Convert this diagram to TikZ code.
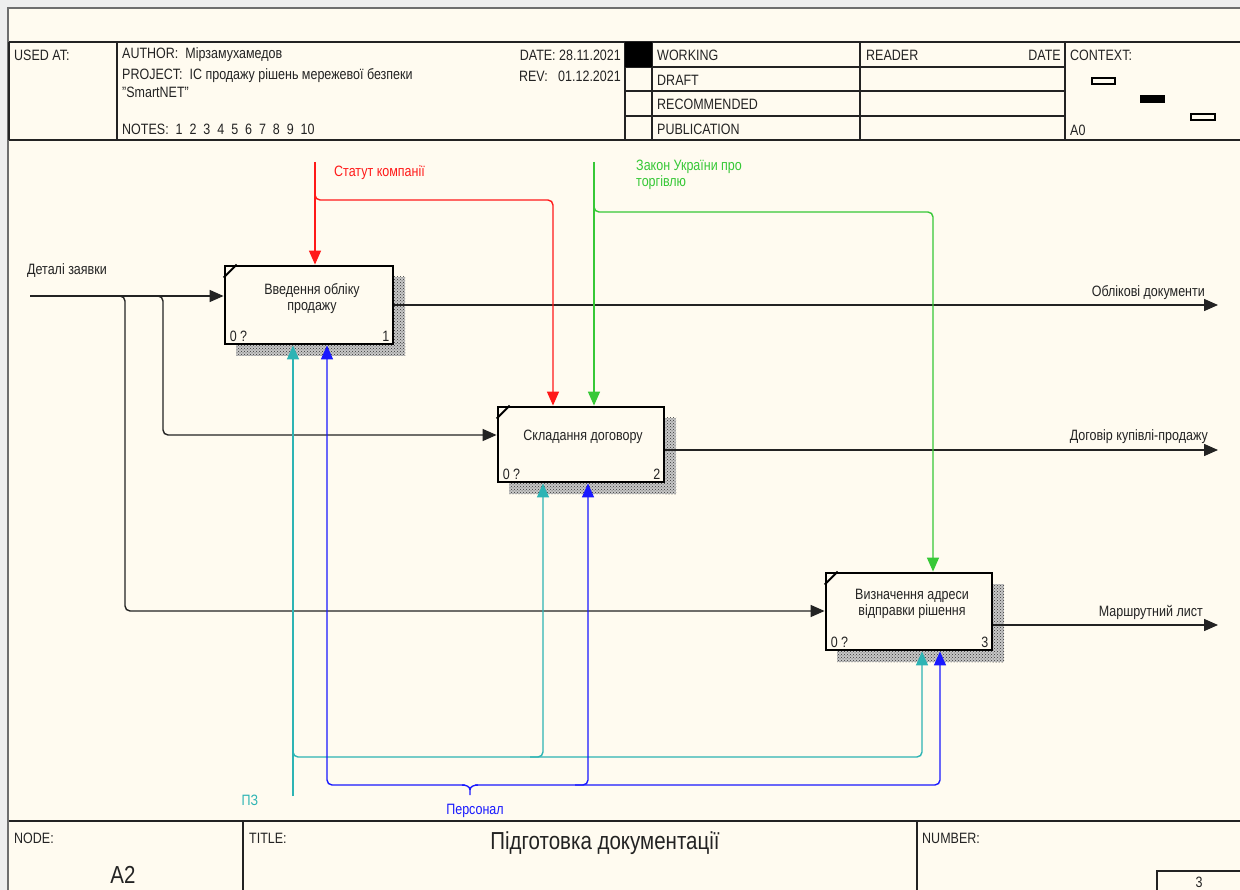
\documentclass[tikz,border=0pt]{standalone}
\usepackage{fontspec}
\setmainfont{Liberation Sans}
\usepackage{graphicx}
\usetikzlibrary{arrows.meta,patterns}
\definecolor{paper}{RGB}{255,251,240}
\definecolor{margin}{RGB}{238,238,238}
\definecolor{framegray}{RGB}{110,110,110}
\definecolor{ink}{RGB}{35,35,35}
\definecolor{ctlred}{RGB}{255,25,25}
\definecolor{ctlgreen}{RGB}{55,200,55}
\definecolor{mechteal}{RGB}{45,180,180}
\definecolor{mechblue}{RGB}{25,25,255}
\newcommand\tall[1]{\scalebox{1}[1.2]{#1}}
\begin{document}
\begin{tikzpicture}[x=1pt,y=-1pt,
  txt/.style={inner sep=0pt, font=\fontsize{12.5}{16}\selectfont, text=ink},
  bigtxt/.style={inner sep=0pt, font=\fontsize{20.5}{24}\selectfont, text=ink},
  rule/.style={draw=ink, line width=1.3pt},
  actbox/.style={draw=black, line width=2.8pt, fill=paper, rectangle, inner sep=0pt},
  shadowbase/.style={fill=black!22},
  shadow/.style={pattern=crosshatch dots, pattern color=black!80},
  flow/.style={line width=1.4pt, rounded corners=5pt, -{Triangle[length=14pt,width=12pt]}},
]
\useasboundingbox (0,0) rectangle (1240,890);
% page and frame
\fill[margin] (0,0) rectangle (1240,890);
\fill[paper] (9,9) rectangle (1240,890);
\draw[framegray, line width=2pt] (8,890) -- (8,8) -- (1240,8);

% header grid
\draw[rule] (9,42) -- (1240,42);
\draw[rule] (9,140) -- (1240,140);
\draw[rule] (9,42) -- (9,140);
\foreach \xx in {117,625,652,860,1065} \draw[rule] (\xx,42) -- (\xx,140);
\foreach \yy in {67,91,116} \draw[rule] (625,\yy) -- (1065,\yy);
\fill[black] (625,42) rectangle (652,67);

\node[txt, anchor=west] (usedat) at (14,55) {\tall{USED AT:}};
\node[txt, anchor=west] (author) at (122,55) {\tall{AUTHOR:\ \ Мірзамухамедов}};
\node[txt, anchor=west] (project) at (122,76) {\tall{PROJECT:\ \ ІС продажу рішень мережевої безпеки}};
\node[txt, anchor=west] (project2) at (122,92) {\tall{"SmartNET"}};
\node[txt, anchor=west] (notes) at (122,129) {\tall{NOTES:\ \ 1\ \ 2\ \ 3\ \ 4\ \ 5\ \ 6\ \ 7\ \ 8\ \ 9\ \ 10}};
\node[txt, anchor=east] (date) at (621,55) {\tall{DATE:\ 28.11.2021}};
\node[txt, anchor=east] (rev) at (621,76) {\tall{REV:\ \ \ 01.12.2021}};
\node[txt, anchor=west] (working) at (657,55) {\tall{WORKING}};
\node[txt, anchor=west] (draft) at (657,80) {\tall{DRAFT}};
\node[txt, anchor=west] (recommended) at (657,104) {\tall{RECOMMENDED}};
\node[txt, anchor=west] (publication) at (657,129) {\tall{PUBLICATION}};
\node[txt, anchor=west] (reader) at (866,55) {\tall{READER}};
\node[txt, anchor=east] (rdate) at (1061,55) {\tall{DATE}};
\node[txt, anchor=west] (context) at (1070,55) {\tall{CONTEXT:}};
\node[txt, anchor=west] (ctxnode) at (1070,130) {\tall{A0}};
\draw[black, line width=1.3pt, fill=paper] (1092,78) rectangle (1115,84);
\fill[black] (1140,95) rectangle (1165,103);
\draw[black, line width=1.3pt, fill=paper] (1191,114) rectangle (1215,120);

% footer
\draw[rule] (9,821) -- (1240,821);
\draw[rule] (243,821) -- (243,890);
\draw[rule] (917,821) -- (917,890);
\draw[rule] (1157,891) -- (1157,871) -- (1242,871);
\node[txt, anchor=west] (nodelbl) at (14,838) {\tall{NODE:}};
\node[bigtxt, anchor=center] (nodeid) at (123,875) {\tall{A2}};
\node[txt, anchor=west] (titlelbl) at (249,838) {\tall{TITLE:}};
\node[bigtxt, anchor=center] (title) at (605,843) {\tall{Підготовка документації}};
\node[txt, anchor=west] (numberlbl) at (922,838) {\tall{NUMBER:}};
\node[txt, anchor=center] (pagenum) at (1199,882) {\tall{3}};

% activity shadows
\foreach \sx/\sy/\ex/\ey in {393/277/405/356, 236/344/405/356,
                             664/418/676/494, 509/482/676/494,
                             992/584/1004/662, 837/650/1004/662}{
  \fill[shadowbase] (\sx,\sy) rectangle (\ex,\ey);
  \fill[shadow] (\sx,\sy) rectangle (\ex,\ey);
}

% activities
\node[actbox, minimum width=168pt, minimum height=78pt] (b1) at (309,305) {};
\node[actbox, minimum width=166pt, minimum height=75pt] (b2) at (581,444.5) {};
\node[actbox, minimum width=166pt, minimum height=77pt] (b3) at (909,611.5) {};
\foreach \b in {b1,b2,b3}
  \draw[black, line width=2pt] ([yshift=-13pt]\b.north west) -- ([xshift=13pt]\b.north west);

\node[txt, align=center] (b1t) at (312,299) {\tall{Введення обліку}\\\tall{продажу}};
\node[txt] (b2t) at (583,437) {\tall{Складання договору}};
\node[txt, align=center] (b3t) at (912,604) {\tall{Визначення адреси}\\\tall{відправки рішення}};
\node[txt, anchor=south west] (b1c) at ([xshift=6pt,yshift=4pt]b1.south west) {\tall{0 ?}};
\node[txt, anchor=south east] (b1n) at ([xshift=-5pt,yshift=4pt]b1.south east) {\tall{1}};
\node[txt, anchor=south west] (b2c) at ([xshift=6pt,yshift=4pt]b2.south west) {\tall{0 ?}};
\node[txt, anchor=south east] (b2n) at ([xshift=-5pt,yshift=4pt]b2.south east) {\tall{2}};
\node[txt, anchor=south west] (b3c) at ([xshift=6pt,yshift=4pt]b3.south west) {\tall{0 ?}};
\node[txt, anchor=south east] (b3n) at ([xshift=-5pt,yshift=4pt]b3.south east) {\tall{3}};

% free ends of boundary arrows
\coordinate (inSrc) at (30,296);
\coordinate (out1) at (1218,305);
\coordinate (out2) at (1218,450);
\coordinate (out3) at (1218,625);
\coordinate (statSrc) at (315,162);
\coordinate (lawSrc) at (594,162);
\coordinate (pzSrc) at (293,796);
\coordinate (persSrc) at (470,795);

% input: order details
\draw[flow, ink] (inSrc) -- (inSrc -| b1.west);
\draw[flow, ink] (118,296) -- (125,296) -- (125,611) -- (b3.west |- 0,611);
\draw[flow, ink] (156,296) -- (163,296) -- (163,435) -- (b2.west |- 0,435);
\node[txt, anchor=west] (inLbl) at (27,271) {\tall{Деталі заявки}};

% outputs
\draw[flow, ink] (b1.east |- out1) -- (out1);
\draw[flow, ink] (b2.east |- out2) -- (out2);
\draw[flow, ink] (b3.east |- out3) -- (out3);
\node[txt, anchor=east] (out1Lbl) at (1205,293) {\tall{Облікові документи}};
\node[txt, anchor=east] (out2Lbl) at (1208,437) {\tall{Договір купівлі-продажу}};
\node[txt, anchor=east] (out3Lbl) at (1203,612) {\tall{Маршрутний лист}};

% control: company statute
\draw[flow, ctlred] (statSrc) -- (statSrc |- b1.north);
\draw[flow, ctlred] (315,194) -- (315,200) -- (553,200) -- (b2.north -| 553,0);
\node[txt, anchor=west, text=ctlred] (statLbl) at (334,173) {\tall{Статут компанії}};

% control: trade law
\draw[flow, ctlgreen] (lawSrc) -- (lawSrc |- b2.north);
\draw[flow, ctlgreen] (594,206) -- (594,212) -- (933,212) -- (b3.north -| 933,0);
\node[txt, anchor=north west, align=left, text=ctlgreen] (lawLbl) at (636,160) {\tall{Закон України про}\\\tall{торгівлю}};

% mechanism: software
\draw[flow, mechteal] (pzSrc) -- (pzSrc |- b1.south);
\draw[flow, mechteal] (293,751) -- (293,757) -- (922,757) -- (b3.south -| 922,0);
\draw[flow, mechteal] (530,757) -- (543,757) -- (b2.south -| 543,0);
\node[txt, text=mechteal] (pzLbl) at (250,800) {\tall{ПЗ}};

% mechanism: staff
\draw[mechblue, line width=1.4pt] (462,785) to[out=0,in=90] (persSrc |- 0,790) -- (persSrc);
\draw[mechblue, line width=1.4pt] (478,785) to[out=180,in=90] (persSrc |- 0,790);
\draw[flow, mechblue] (465,785) -- (327,785) -- (b1.south -| 327,0);
\draw[flow, mechblue] (475,785) -- (940,785) -- (b3.south -| 940,0);
\draw[flow, mechblue] (575,785) -- (588,785) -- (b2.south -| 588,0);
\node[txt, text=mechblue] (persLbl) at (475,811) {\tall{Персонал}};
\end{tikzpicture}
\end{document}
